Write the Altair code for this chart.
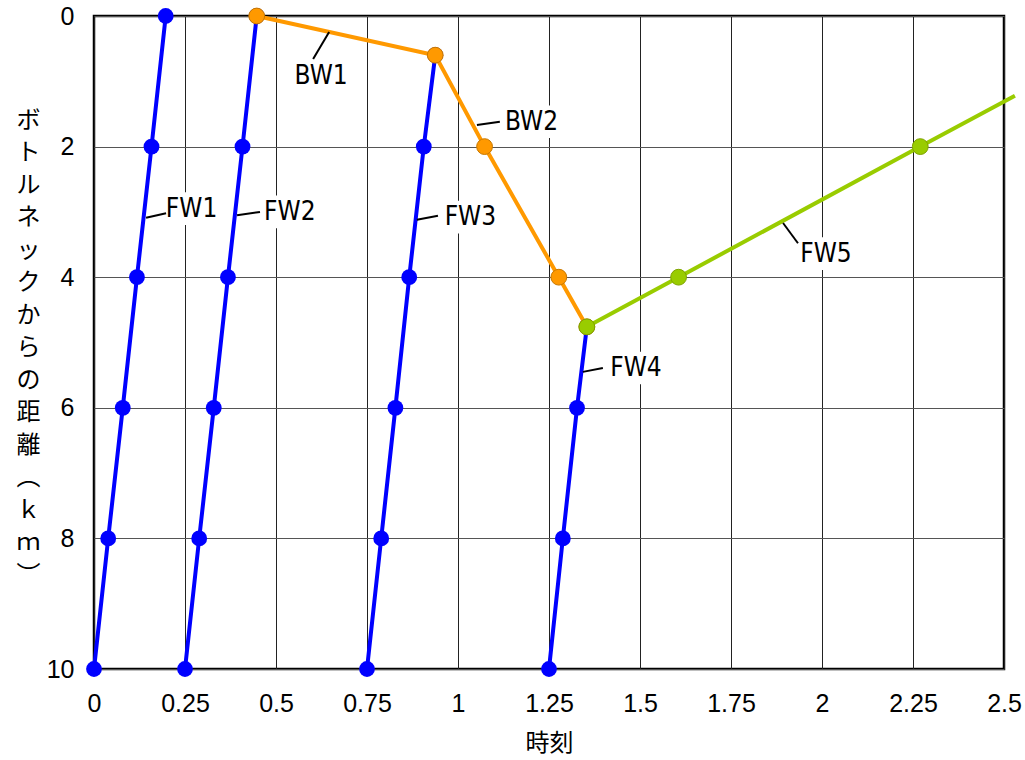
import altair as alt
import pandas as pd

# ---- data ----
KM6 = [10, 8, 6, 4, 2, 0]
FW1_T = [0.000, 0.039, 0.079, 0.118, 0.158, 0.197]
FW2_T = [0.250, 0.289, 0.329, 0.368, 0.408, 0.447]
FW3_T = [0.750, 0.789, 0.828, 0.866, 0.906, 0.9375]
FW3_KM = [10, 8, 6, 4, 2, 0.6]
FW4_T = [1.250, 1.288, 1.327, 1.354]
FW4_KM = [10, 8, 6, 4.76]
BW_T = [0.447, 0.9375, 1.073, 1.277, 1.354]
BW_KM = [0, 0.6, 2, 4, 4.76]
FW5_T = [1.354, 1.606, 2.270, 2.530]
FW5_KM = [4.76, 4.0, 2.0, 1.22]
FW5_MARK = [True, True, True, False]

X_TICKS = [0, 0.25, 0.5, 0.75, 1, 1.25, 1.5, 1.75, 2, 2.25, 2.5]
Y_TICKS = [0, 2, 4, 6, 8, 10]

LBL_NAME = ["FW1", "FW2", "FW3", "BW1", "BW2", "FW4", "FW5"]
LBL_T = [0.268, 0.538, 1.034, 0.624, 1.202, 1.489, 2.011]
LBL_KM = [2.95, 3.00, 3.08, 0.92, 1.62, 5.39, 3.64]
LEAD_T1 = [0.143, 0.393, 0.887, 0.602, 1.052, 1.343, 1.893]
LEAD_KM1 = [3.09, 3.05, 3.12, 0.659, 1.67, 5.45, 3.17]
LEAD_T2 = [0.198, 0.456, 0.945, 0.646, 1.115, 1.398, 1.934]
LEAD_KM2 = [3.02, 3.00, 3.06, 0.245, 1.62, 5.39, 3.48]

Y_TITLE = list("ボトルネックからの距離") + ["︵", "ｋ", "ｍ", "︶"]

BLUE = "#0000FF"
ORANGE = "#FF9900"
GREEN = "#99CC00"


def frame(name, t, km, marks=None):
    d = pd.DataFrame({"series": name, "t": t, "km": km, "idx": range(len(t))})
    d["mark"] = marks if marks is not None else [True] * len(t)
    return d


blue = pd.concat([
    frame("FW1", FW1_T, KM6),
    frame("FW2", FW2_T, KM6),
    frame("FW3", FW3_T, FW3_KM),
    frame("FW4", FW4_T, FW4_KM),
])
orange = frame("BW", BW_T, BW_KM)
green = frame("FW5", FW5_T, FW5_KM, FW5_MARK)

labels = pd.DataFrame({
    "name": LBL_NAME, "t": LBL_T, "km": LBL_KM,
    "t1": LEAD_T1, "km1": LEAD_KM1, "t2": LEAD_T2, "km2": LEAD_KM2,
})

xscale = alt.Scale(domain=[0, 2.5], nice=False, zero=False)
yscale = alt.Scale(domain=[0, 10], nice=False, reverse=True)

xaxis = alt.Axis(
    values=X_TICKS, labelExpr="'' + datum.value", title="時刻", grid=True,
    ticks=False, domain=False, labelPadding=22, labelFontSize=25,
    labelFont="Liberation Sans", labelColor="black", gridColor="#222222",
    gridWidth=1, titleFont="Noto Sans CJK JP", titleFontSize=24,
    titleFontWeight="normal", titleColor="black", titlePadding=15,
    labelFlush=False,
)
yaxis = alt.Axis(
    values=Y_TICKS, title=Y_TITLE, grid=True, ticks=False, domain=False,
    labelPadding=20, labelFontSize=25, labelFont="Liberation Sans",
    labelColor="black", gridColor="#555555", gridWidth=1,
    titleFont="Noto Sans CJK JP", titleFontSize=24, titleFontWeight="normal",
    titleColor="black", titleAngle=0, titleAlign="center",
    titleBaseline="middle", titleX=-66, titleY=104, titleLineHeight=32.5,
    labelFlush=False,
)


def X(field="t"):
    return alt.X(f"{field}:Q", scale=xscale, axis=xaxis)


def Y(field="km"):
    return alt.Y(f"{field}:Q", scale=yscale, axis=yaxis)


def line_layer(df, color):
    return alt.Chart(df).mark_line(color=color, strokeWidth=4).encode(
        x=X(), y=Y(), detail="series:N", order="idx:Q")


def point_layer(df, color, stroke=None):
    kw = dict(color=color, size=250, opacity=1, filled=True)
    if stroke:
        kw.update(stroke=stroke, strokeWidth=1)
    return alt.Chart(df).transform_filter("datum.mark").mark_point(
        shape="circle", **kw).encode(x=X(), y=Y())


boxes = alt.Chart(labels).transform_calculate(
    bx1="datum.t - 0.072", bx2="datum.t + 0.072",
    by1="datum.km - 0.25", by2="datum.km + 0.25",
).mark_rect(color="white").encode(
    x=X("bx1"), x2="bx2:Q", y=Y("by1"), y2="by2:Q")

leaders = alt.Chart(labels).mark_rule(color="black", strokeWidth=2).encode(
    x=X("t1"), x2="t2:Q", y=Y("km1"), y2="km2:Q")

texts = alt.Chart(labels).mark_text(
    font="Liberation Sans Narrow, DejaVu Sans Condensed, sans-serif",
    fontSize=26, color="black", align="center", baseline="middle",
).encode(x=X(), y=Y(), text="name:N")

chart = alt.layer(
    line_layer(blue, BLUE), point_layer(blue, BLUE),
    boxes,
    line_layer(orange, ORANGE), point_layer(orange, ORANGE, "#C87800"),
    line_layer(green, GREEN), point_layer(green, GREEN, "#7FA300"),
    leaders, texts,
).properties(
    width=910, height=653,
    autosize=alt.AutoSizeParams(type="none"),
    padding={"left": 94, "top": 16, "right": 21, "bottom": 91},
    background="white",
).configure_view(stroke="black", strokeWidth=2.5)

chart.save("out.html", embed_options={"renderer": "svg", "actions": False})
